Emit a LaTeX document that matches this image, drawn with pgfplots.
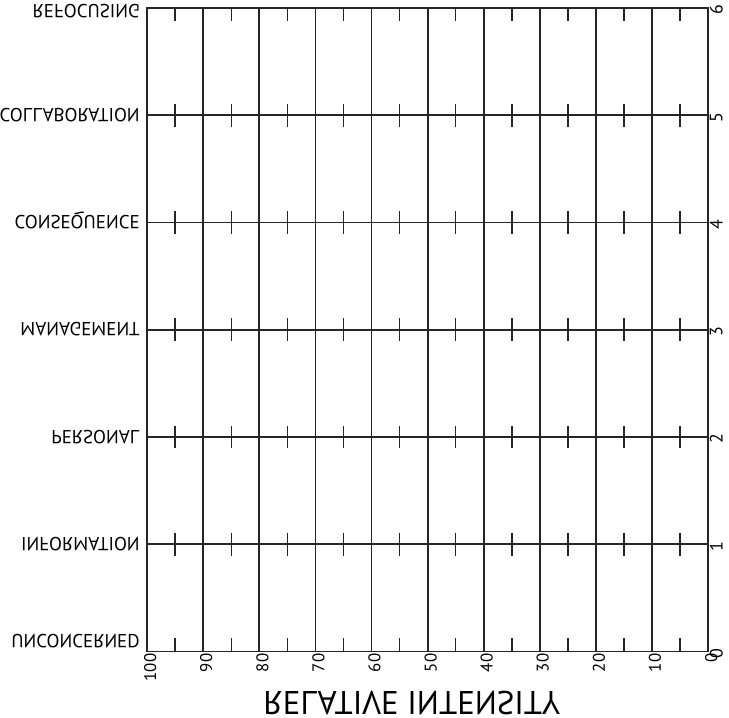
\documentclass[border=0pt]{standalone}
\usepackage{pgfplots}
\pgfplotsset{compat=1.18}
\usepackage{fontspec}
\setmainfont{PT Sans}
\pgfplotstableread{
x y
5 1
15 1
25 1
35 1
45 1
55 1
65 1
75 1
85 1
95 1
5 2
15 2
25 2
35 2
45 2
55 2
65 2
75 2
85 2
95 2
5 3
15 3
25 3
35 3
45 3
55 3
65 3
75 3
85 3
95 3
5 4
15 4
25 4
35 4
45 4
55 4
65 4
75 4
85 4
95 4
5 5
15 5
25 5
35 5
45 5
55 5
65 5
75 5
85 5
95 5
}\crossmarks
\begin{document}
\begin{tikzpicture}
\begin{axis}[
  scale only axis, width=564pt, height=647pt,
  xmin=0, xmax=100, ymin=0, ymax=6, x dir=reverse,
  xtick={0,10,...,100}, minor x tick num=1,
  ytick={0,...,6},
  yticklabels={\rotatebox{90}{0},\rotatebox{90}{1},\rotatebox{90}{2},\rotatebox{90}{3},\rotatebox{90}{4},\rotatebox{90}{5},\rotatebox{90}{6}},
  xmajorgrids, ymajorgrids,
  grid style={line width=1.8pt, color=black!85},
  axis line style={line width=1.8pt, color=black!85},
  tick align=inside,
  major tick length=0pt,
  minor tick length=13pt,
  minor tick style={line width=1.6pt, color=black!85},
  /pgf/number format/assume math mode=true,
  xticklabel style={rotate=90, anchor=east, font=\fontsize{17}{17}\selectfont, inner sep=2pt, yshift=-3pt},
  yticklabel pos=right,
  yticklabel style={anchor=west, font=\fontsize{18}{18}\selectfont, inner sep=0.5pt, xshift=1pt, yshift=-2pt},
]
\addplot[only marks, mark=|, mark size=11.5pt, mark options={line width=1.6pt, color=black!85}] table[x=x,y=y] {\crossmarks};
\end{axis}
\begin{axis}[
  scale only axis, width=564pt, height=647pt,
  xmin=0, xmax=100, ymin=0, ymax=6, x dir=reverse,
  hide x axis,
  axis line style={draw=none},
  major tick length=0pt,
  ytick={1,...,6},
  yticklabels={INFORMATION,PERSONAL,MANAGEMENT,CONSEQUENCE,COLLABORATION,\raisebox{3pt}[0.7em][0pt]{REFOCUSING}},
  yticklabel style={yscale=-1, anchor=east, font=\fontsize{19}{19}\selectfont, text depth=0pt, xshift=-4pt},
  extra y ticks={0},
  extra y tick labels={UNCONCERNED},
  extra y tick style={yticklabel style={yshift=-10pt}},
]
\end{axis}
\node[yscale=-1, font=\fontsize{33}{33}\selectfont, text depth=0pt] at (266pt,-52pt) {RELATIVE INTENSITY};
\pgfresetboundingbox
\path[use as bounding box] (-148pt,-66pt) rectangle (585pt,655pt);
\end{tikzpicture}
\end{document}
